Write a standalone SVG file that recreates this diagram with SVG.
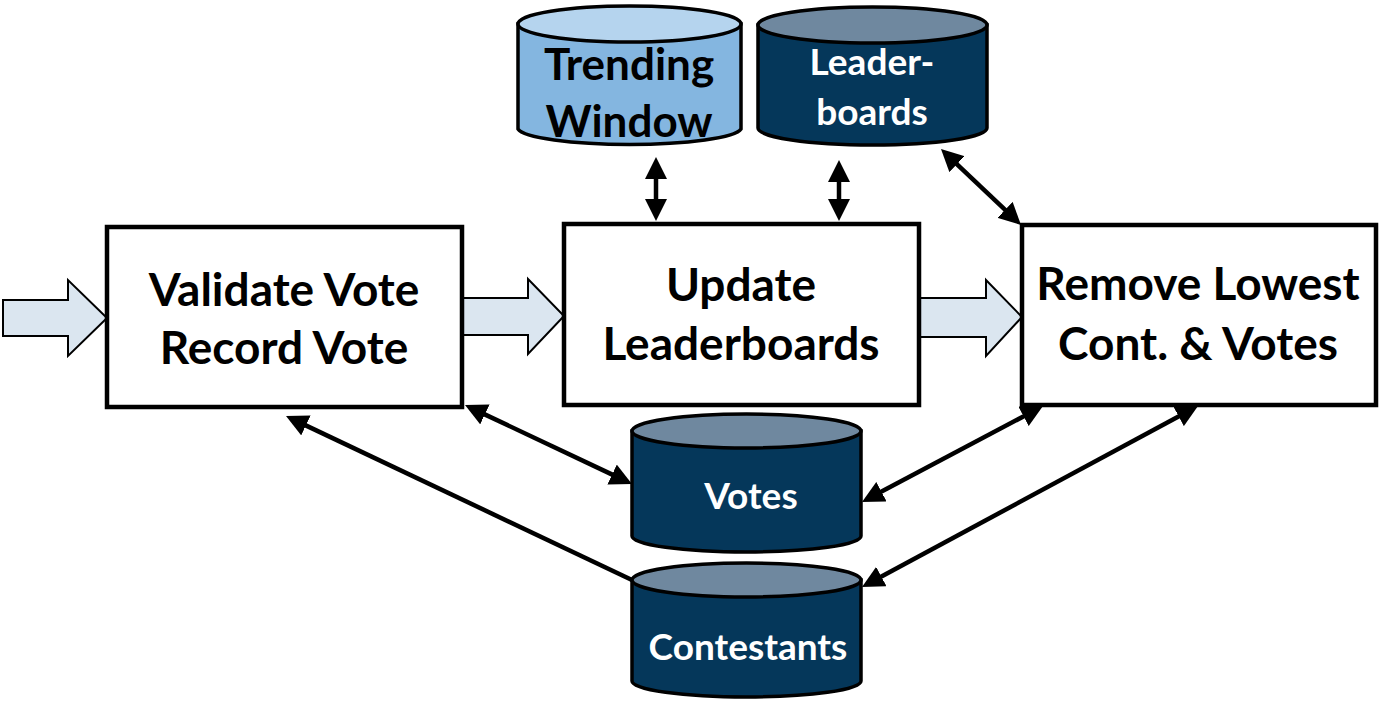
<svg xmlns="http://www.w3.org/2000/svg" width="1385" height="710" viewBox="0 0 1385 710">
<defs>
<style>
.box{fill:#ffffff;stroke:#000;stroke-width:4.5}
.bt{font-family:Lato,"Liberation Sans",sans-serif;font-weight:700;font-size:46px;fill:#000;text-anchor:middle}
.ct{font-family:Lato,"Liberation Sans",sans-serif;font-weight:700;text-anchor:middle}
.light .body{fill:#84b6e0;stroke:#000;stroke-width:3.5}
.light .top{fill:#b5d4ee;stroke:#000;stroke-width:3.5}
.dark .body{fill:#05375a;stroke:#000;stroke-width:3.5}
.dark .top{fill:#6f889f;stroke:#000;stroke-width:3.5}
.flow{fill:#dbe6f0;stroke:#000;stroke-width:2}
.conn{fill:none;stroke:#000;stroke-width:4.5}
</style>
<marker id="ah" viewBox="0 0 22 22" refX="2" refY="11" markerWidth="22" markerHeight="22" markerUnits="userSpaceOnUse" orient="auto-start-reverse">
<path d="M0,0 L22,11 L0,22 z" fill="#000"/>
</marker>
</defs>
<rect width="1385" height="710" fill="#ffffff"/>

<g id="flow-arrows">
<path class="flow" d="M3,300 L68,300 L68,280 L107,318 L68,356 L68,336 L3,336 z"/>
<path class="flow" d="M463,298 L528,298 L528,279 L564,316 L528,354 L528,335 L463,335 z"/>
<path class="flow" d="M920,298 L986,298 L986,280 L1022,317 L986,356 L986,337 L920,337 z"/>
</g>

<g id="connectors">
<line class="conn" x1="656" y1="177" x2="656" y2="201" marker-start="url(#ah)" marker-end="url(#ah)"/>
<line class="conn" x1="839" y1="180" x2="839" y2="201" marker-start="url(#ah)" marker-end="url(#ah)"/>
<line class="conn" x1="955.5" y1="162.8" x2="1006.5" y2="211.2" marker-start="url(#ah)" marker-end="url(#ah)"/>
<line class="conn" x1="483.1" y1="413.6" x2="613.9" y2="475.4" marker-start="url(#ah)" marker-end="url(#ah)"/>
<line class="conn" x1="879.7" y1="492.6" x2="1025.3" y2="415.4" marker-start="url(#ah)" marker-end="url(#ah)"/>
<line class="conn" x1="632" y1="580" x2="304.1" y2="424.6" marker-end="url(#ah)"/>
<line class="conn" x1="879.6" y1="577.5" x2="1180.4" y2="415.5" marker-start="url(#ah)" marker-end="url(#ah)"/>
</g>

<g id="validate">
<rect class="box" x="107" y="227" width="355" height="180"/>
<text class="bt" x="284" y="306">Validate Vote</text>
<text class="bt" x="284" y="364">Record Vote</text>
</g>

<g id="update">
<rect class="box" x="564" y="224" width="355" height="181"/>
<text class="bt" x="741" y="301">Update</text>
<text class="bt" x="741" y="360">Leaderboards</text>
</g>

<g id="remove">
<rect class="box" x="1022" y="225" width="354" height="180"/>
<text class="bt" x="1198" y="300">Remove Lowest</text>
<text class="bt" x="1198" y="360">Cont. &amp; Votes</text>
</g>

<g id="trending-window" class="light">
<path class="body" d="M518,24 L518,129 A112,17 0 0 0 741,129 L741,24 z"/>
<ellipse class="top" cx="629.5" cy="24" rx="111.5" ry="18"/>
<text class="ct" x="629" y="80" font-size="44" fill="#000">Trending</text>
<text class="ct" x="629" y="137" font-size="44" fill="#000">Window</text>
</g>

<g id="leaderboards" class="dark">
<path class="body" d="M758,25 L758,128 A114.5,17 0 0 0 987,128 L987,25 z"/>
<ellipse class="top" cx="872.5" cy="25" rx="114.5" ry="18"/>
<text class="ct" x="872" y="75" font-size="37" fill="#fff">Leader-</text>
<text class="ct" x="872" y="125" font-size="37" fill="#fff">boards</text>
</g>

<g id="votes" class="dark">
<path class="body" d="M632,431 L632,536 A114.5,16 0 0 0 861,536 L861,431 z"/>
<ellipse class="top" cx="746.5" cy="431" rx="114.5" ry="17"/>
<text class="ct" x="751" y="509" font-size="37" fill="#fff">Votes</text>
</g>

<g id="contestants" class="dark">
<path class="body" d="M632,580 L632,681 A114.5,16 0 0 0 861,681 L861,580 z"/>
<ellipse class="top" cx="746.5" cy="580" rx="114.5" ry="17"/>
<text class="ct" x="748" y="660" font-size="37" fill="#fff">Contestants</text>
</g>
</svg>
